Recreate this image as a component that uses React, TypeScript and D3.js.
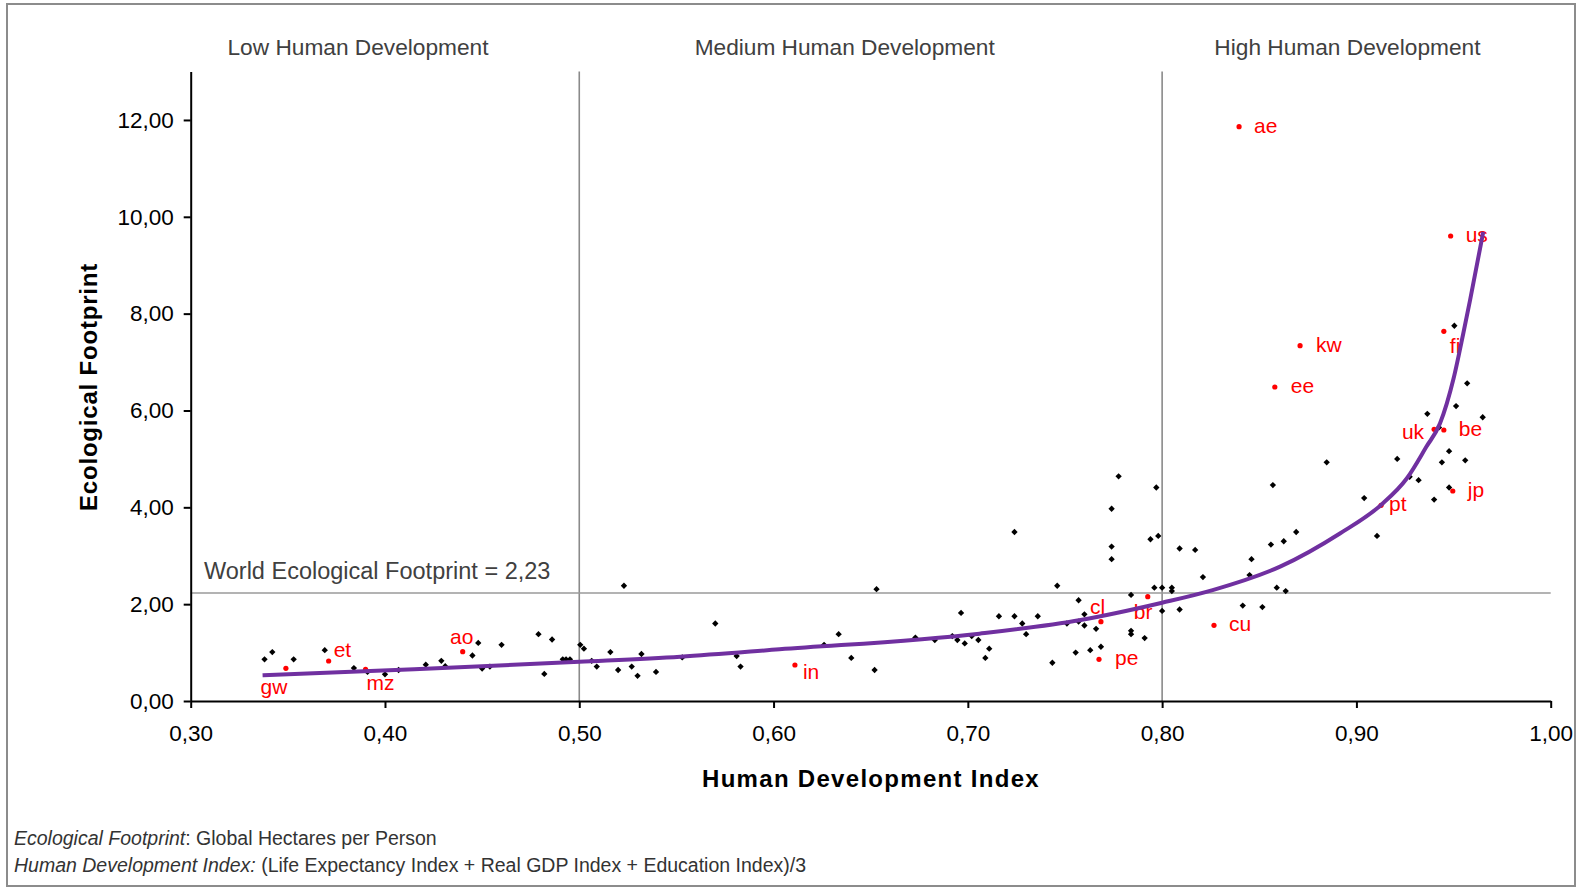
import React from "react";
import * as d3 from "d3";

// labelled countries (red)
const labelCodes = ["gw", "et", "mz", "ao", "in", "cl", "br", "pe", "cu", "kw", "ee", "fi", "uk", "be", "jp", "pt", "ae", "us"];
const labelHdi = [0.349, 0.371, 0.39, 0.44, 0.611, 0.7685, 0.7926, 0.7675, 0.8267, 0.871, 0.858, 0.945, 0.94, 0.945, 0.9496, 0.9127, 0.8396, 0.9485];
const labelFootprint = [0.675, 0.826, 0.655, 1.018, 0.743, 1.638, 2.154, 0.861, 1.563, 7.338, 6.485, 7.635, 5.611, 5.597, 4.337, 4.042, 11.861, 9.603];

// all other countries (black): [hdi, footprint]
const otherCountries: [number, number][] = [
  [0.338, 0.86], [0.342, 1.01], [0.353, 0.86], [0.369, 1.05], [0.384, 0.68], [0.391, 0.6],
  [0.4, 0.55], [0.407, 0.64], [0.421, 0.75], [0.429, 0.83], [0.431, 0.72], [0.448, 1.2],
  [0.445, 0.94], [0.45, 0.67], [0.454, 0.71], [0.46, 1.16], [0.479, 1.38], [0.486, 1.27],
  [0.482, 0.56], [0.4915, 0.86], [0.4932, 0.86], [0.4952, 0.86], [0.5005, 1.16], [0.5024, 1.08],
  [0.5064, 0.83], [0.509, 0.71], [0.516, 1.01], [0.52, 0.64], [0.523, 2.38], [0.527, 0.71],
  [0.53, 0.52], [0.532, 0.97], [0.5395, 0.6], [0.553, 0.9], [0.57, 1.6], [0.581, 0.93],
  [0.583, 0.71], [0.626, 1.16], [0.6335, 1.38], [0.64, 0.89], [0.652, 0.64], [0.653, 2.31],
  [0.673, 1.31], [0.683, 1.26], [0.692, 1.34], [0.6965, 1.82], [0.6946, 1.26], [0.6984, 1.19],
  [0.702, 1.34], [0.7054, 1.26], [0.711, 1.08], [0.709, 0.89], [0.716, 1.75], [0.724, 1.75],
  [0.724, 3.49], [0.728, 1.6], [0.73, 1.38], [0.736, 1.75], [0.7435, 0.79], [0.746, 2.38],
  [0.751, 1.6], [0.7555, 1.0], [0.757, 2.08], [0.757, 1.64], [0.76, 1.79], [0.76, 1.56],
  [0.763, 1.05], [0.766, 1.49], [0.7685, 1.12], [0.774, 3.97], [0.774, 3.19], [0.774, 2.93],
  [0.7776, 4.64], [0.784, 2.19], [0.784, 1.45], [0.784, 1.38], [0.791, 1.3], [0.794, 3.34],
  [0.798, 3.41], [0.797, 4.41], [0.796, 2.34], [0.8, 2.34], [0.8, 1.86], [0.805, 2.34],
  [0.805, 2.27], [0.809, 3.15], [0.809, 1.89], [0.817, 3.12], [0.821, 2.56], [0.8415, 1.97],
  [0.845, 2.6], [0.846, 2.93], [0.8516, 1.94], [0.856, 3.23], [0.857, 4.46], [0.859, 2.34],
  [0.8636, 2.27], [0.8626, 3.3], [0.869, 3.49], [0.8847, 4.93], [0.904, 4.19], [0.9106, 3.41],
  [0.921, 5.0], [0.9274, 4.63], [0.932, 4.56], [0.9365, 5.93], [0.94, 4.16], [0.9425, 5.65],
  [0.944, 4.93], [0.9477, 5.16], [0.9477, 4.41], [0.9504, 7.75], [0.9513, 6.09], [0.956, 4.97],
  [0.957, 6.56], [0.965, 5.86],
];

// trend line
const trendHdi = [0.337, 0.415, 0.5, 0.552, 0.603, 0.706, 0.758, 0.8, 0.826, 0.861, 0.8915, 0.9127, 0.926, 0.936, 0.943, 0.95, 0.955, 0.9585, 0.9653];
const trendFootprint = [0.53, 0.655, 0.81, 0.915, 1.067, 1.39, 1.673, 2.03, 2.29, 2.78, 3.46, 4.05, 4.6, 5.25, 5.73, 6.66, 7.59, 8.28, 9.69];

const bandNames = ["Low Human Development", "Medium Human Development", "High Human Development"];
const bandEdges = [0.3, 0.5, 0.8, 1.0];
const worldFootprint = 2.23;
const xTicks = [0.3, 0.4, 0.5, 0.6, 0.7, 0.8, 0.9, 1.0];
const yTicks = [0, 2, 4, 6, 8, 10, 12];

const FONT = "'Liberation Sans', Arial, sans-serif";

// label placement next to each red point
const labelPos: Record<string, [number, number, string]> = {
  gw: [-12, 26, "middle"], et: [5, -4, "start"], mz: [1, 21, "start"], ao: [-1, -8, "middle"],
  in: [8, 14, "start"], cl: [-11, -8, "start"], br: [-14, 22, "start"], pe: [16, 6, "start"],
  cu: [15, 6, "start"], kw: [16, 6, "start"], ee: [16, 6, "start"], fi: [6, 22, "start"],
  uk: [-10, 10, "end"], be: [15, 6, "start"], jp: [15, 6, "start"], pt: [8, 6, "start"],
  ae: [15, 6, "start"], us: [15, 6, "start"],
};

export default function App() {
  const ref = React.useRef<SVGSVGElement | null>(null);

  React.useEffect(() => {
    document.body.style.margin = "0";
    if (!ref.current) return;
    const svg = d3.select(ref.current);
    svg.selectAll("*").remove();

    const x = d3.scaleLinear().domain([0.3, 1.0]).range([190.7, 1550.7]);
    const y = d3.scaleLinear().domain([0, 13]).range([701, 701 - 13 * 48.42]);
    const fmt = (v: number) => d3.format(".2f")(v).replace(".", ",");

    svg.append("rect").attr("x", 7).attr("y", 4).attr("width", 1568).attr("height", 882)
      .attr("fill", "white").attr("stroke", "#8c8c8c").attr("stroke-width", 2);

    // band dividers and world line
    svg.append("g").selectAll("line").data(bandEdges.slice(1, 3)).join("line")
      .attr("x1", d => x(d)).attr("x2", d => x(d)).attr("y1", y(13)).attr("y2", y(0))
      .attr("stroke", "#8a8a8a").attr("stroke-width", 1.6);
    svg.append("line").attr("x1", x(0.3)).attr("x2", x(1.0)).attr("y1", y(worldFootprint)).attr("y2", y(worldFootprint))
      .attr("stroke", "#9a9a9a").attr("stroke-width", 1.6);
    svg.append("text").attr("x", 204).attr("y", y(worldFootprint) - 14)
      .attr("font-family", FONT).attr("font-size", 23.5).attr("fill", "#404040")
      .text("World Ecological Footprint = " + fmt(worldFootprint));

    const bandShift = [-27, -26, -9];
    svg.append("g").selectAll("text").data(bandNames).join("text")
      .attr("x", (d, i) => (x(bandEdges[i]) + x(bandEdges[i + 1])) / 2 + bandShift[i])
      .attr("y", 55).attr("text-anchor", "middle")
      .attr("font-family", FONT).attr("font-size", 22.7).attr("fill", "#404040")
      .text(d => d);

    // axes
    const xAxis = svg.append("g").attr("transform", `translate(0,${y(0)})`)
      .call(d3.axisBottom(x).tickValues(xTicks).tickFormat(d => fmt(+d)).tickSize(7).tickSizeOuter(0).tickPadding(17));
    const yAxis = svg.append("g").attr("transform", `translate(${x(0.3)},0)`)
      .call(d3.axisLeft(y).tickValues(yTicks).tickFormat(d => fmt(+d)).tickSize(7).tickSizeOuter(0).tickPadding(10));
    [xAxis, yAxis].forEach(g => {
      g.selectAll("path,line").attr("stroke", "#000").attr("stroke-width", 2);
      g.selectAll("text").attr("font-family", FONT).attr("font-size", 22.5).attr("fill", "#000");
    });

    svg.append("text").attr("x", 871).attr("y", 787).attr("text-anchor", "middle")
      .attr("font-family", FONT).attr("font-size", 24).attr("font-weight", "bold").attr("letter-spacing", 1.3)
      .text("Human Development Index");
    svg.append("text").attr("transform", "translate(97,387) rotate(-90)").attr("text-anchor", "middle")
      .attr("font-family", FONT).attr("font-size", 24).attr("font-weight", "bold").attr("letter-spacing", 0.8)
      .text("Ecological Footprint");

    // black points
    const diamond = d3.symbol(d3.symbolSquare, 20);
    svg.append("g").selectAll("path").data(otherCountries).join("path")
      .attr("d", diamond)
      .attr("transform", d => `translate(${x(d[0])},${y(d[1])}) rotate(45)`)
      .attr("fill", "#000");

    // red points and labels
    const red = labelCodes.map((c, i) => ({ code: c, hdi: labelHdi[i], ef: labelFootprint[i] }));
    svg.append("g").selectAll("circle").data(red).join("circle")
      .attr("cx", d => x(d.hdi)).attr("cy", d => y(d.ef)).attr("r", 2.6).attr("fill", "#ff0000");
    svg.append("g").selectAll("text").data(red).join("text")
      .attr("x", d => x(d.hdi) + labelPos[d.code][0])
      .attr("y", d => y(d.ef) + labelPos[d.code][1])
      .attr("text-anchor", d => labelPos[d.code][2])
      .attr("font-family", FONT).attr("font-size", 21).attr("fill", "#ff0000")
      .text(d => d.code);

    // trend curve
    const trend = trendHdi.map((h, i) => [h, trendFootprint[i]] as [number, number]);
    const line = d3.line<[number, number]>().x(d => x(d[0])).y(d => y(d[1])).curve(d3.curveMonotoneX);
    svg.append("path").datum(trend).attr("d", line).attr("fill", "none")
      .attr("stroke", "#7030a0").attr("stroke-width", 4);

    // footnote
    const notes: [string, string][] = [
      ["Ecological Footprint", ": Global Hectares per Person"],
      ["Human Development Index:", " (Life Expectancy Index + Real GDP Index + Education Index)/3"],
    ];
    notes.forEach((n, i) => {
      const t = svg.append("text").attr("x", 14).attr("y", 845 + i * 27)
        .attr("font-family", FONT).attr("font-size", 19.5).attr("fill", "#333");
      t.append("tspan").attr("font-style", "italic").text(n[0]);
      t.append("tspan").text(n[1]);
    });
  }, []);

  return <svg ref={ref} width={1584} height={890} style={{ display: "block" }}></svg>;
}
